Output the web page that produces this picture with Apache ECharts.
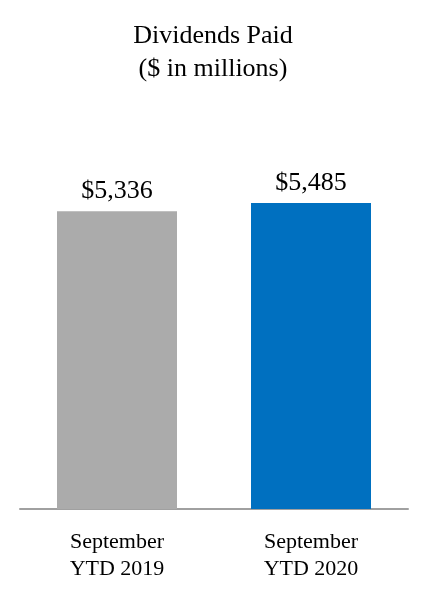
<!DOCTYPE html>
<html>
<head>
<meta charset="utf-8">
<script src="https://cdn.jsdelivr.net/npm/echarts@6/dist/echarts.min.js"></script>
<style>html,body{margin:0;padding:0;background:#fff}#c{width:426px;height:596px}</style>
</head>
<body>
<div id="c"></div>
<script>
const categories = ['September\nYTD 2019', 'September\nYTD 2020'];
const values = [5336, 5485];
const valueLabels = ['$5,336', '$5,485'];
const colors = ['#ababab', '#0070c0'];

const chart = echarts.init(document.getElementById('c'), null, {renderer: 'canvas'});
chart.setOption({
  animation: false,
  title: {
    text: 'Dividends Paid\n($ in millions)',
    left: 'center',
    top: 15,
    textStyle: {fontFamily: 'Liberation Serif', fontSize: 26, fontWeight: 'normal', color: '#000', lineHeight: 33}
  },
  grid: {left: 20, right: 18, top: 174.3, bottom: 87, containLabel: false},
  xAxis: {
    type: 'category',
    data: categories,
    axisLine: {lineStyle: {color: '#a0a0a0', width: 2}},
    axisTick: {show: false},
    axisLabel: {fontFamily: 'Liberation Serif', fontSize: 22, color: '#000', lineHeight: 27, margin: 20}
  },
  yAxis: {type: 'value', min: 0, max: 6000, show: false, splitLine: {show: false}},
  series: [{
    type: 'bar',
    barWidth: 120,
    data: values.map((v, i) => ({value: v, itemStyle: {color: colors[i]}})),
    label: {
      show: true,
      position: 'top',
      distance: 7,
      fontFamily: 'Liberation Serif',
      fontSize: 26,
      color: '#000',
      formatter: p => valueLabels[p.dataIndex]
    }
  }]
});
</script>
</body>
</html>
